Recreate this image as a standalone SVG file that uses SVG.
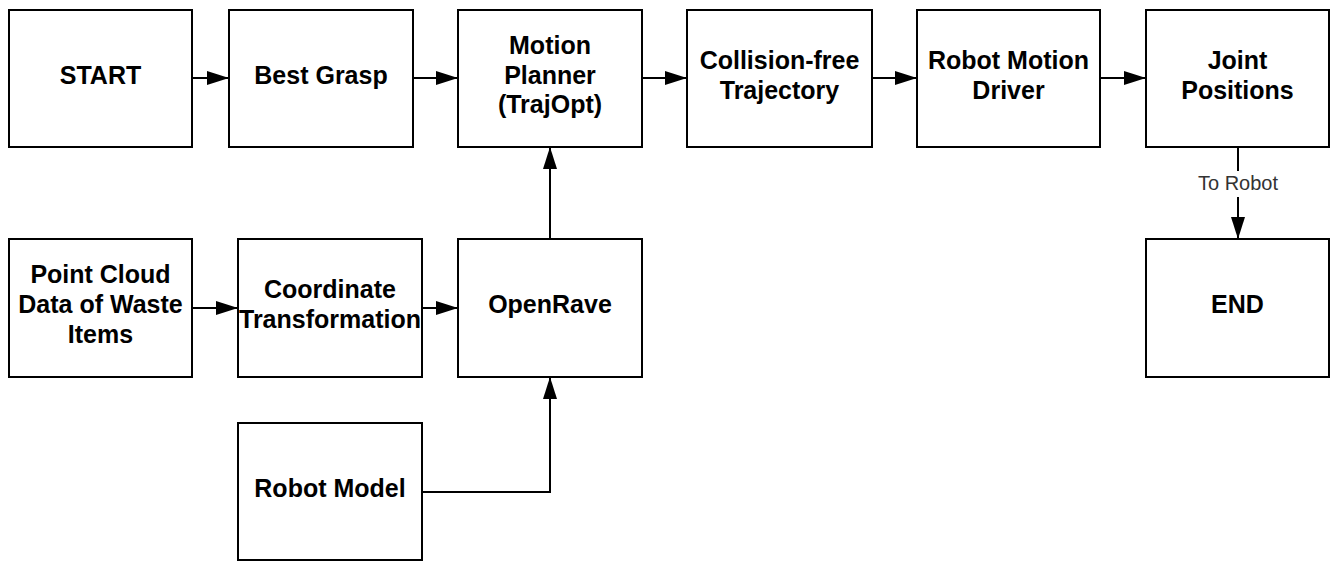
<svg xmlns="http://www.w3.org/2000/svg" width="1330" height="561" viewBox="0 0 1330 561">
<style>
.box{fill:#fff;stroke:#000;stroke-width:2}
.t{font-family:"Liberation Sans",Arial,sans-serif;font-weight:bold;font-size:25px;fill:#000;text-anchor:middle}
.c{fill:none;stroke:#000;stroke-width:2}
.lbl{font-family:"Liberation Sans",Arial,sans-serif;font-size:20px;fill:#333;text-anchor:middle}
</style>
<defs>
<marker id="ah" markerWidth="22" markerHeight="14" refX="22" refY="7" orient="auto" markerUnits="userSpaceOnUse">
<path d="M0,0 L22,7 L0,14 Z" fill="#000"/>
</marker>
</defs>
<g id="connectors">
<line class="c" x1="192" y1="78" x2="229" y2="78" marker-end="url(#ah)"/>
<line class="c" x1="413" y1="78" x2="458" y2="78" marker-end="url(#ah)"/>
<line class="c" x1="642" y1="78" x2="687" y2="78" marker-end="url(#ah)"/>
<line class="c" x1="872" y1="78" x2="917" y2="78" marker-end="url(#ah)"/>
<line class="c" x1="1100" y1="78" x2="1146" y2="78" marker-end="url(#ah)"/>
<line class="c" x1="192" y1="308" x2="238" y2="308" marker-end="url(#ah)"/>
<line class="c" x1="422" y1="308" x2="458" y2="308" marker-end="url(#ah)"/>
<line class="c" x1="550" y1="239" x2="550" y2="147" marker-end="url(#ah)"/>
<polyline class="c" points="422,492 550,492 550,377" marker-end="url(#ah)"/>
<line class="c" x1="1238" y1="147" x2="1238" y2="239" marker-end="url(#ah)"/>
<rect x="1192" y="171" width="92" height="26" fill="#fff"/>
<text class="lbl" x="1238" y="190">To Robot</text>
</g>
<g id="start"><rect class="box" x="9" y="10" width="183" height="137"/><text class="t" x="100.5" y="84">START</text></g>
<g id="best-grasp"><rect class="box" x="229" y="10" width="184" height="137"/><text class="t" x="321" y="84">Best Grasp</text></g>
<g id="motion-planner"><rect class="box" x="458" y="10" width="184" height="137"/><text class="t" x="550" y="54">Motion</text><text class="t" x="550" y="83.5">Planner</text><text class="t" x="550" y="113">(TrajOpt)</text></g>
<g id="collision-free"><rect class="box" x="687" y="10" width="185" height="137"/><text class="t" x="779.5" y="69">Collision-free</text><text class="t" x="779.5" y="99">Trajectory</text></g>
<g id="robot-motion-driver"><rect class="box" x="917" y="10" width="183" height="137"/><text class="t" x="1008.5" y="69">Robot Motion</text><text class="t" x="1008.5" y="99">Driver</text></g>
<g id="joint-positions"><rect class="box" x="1146" y="10" width="183" height="137"/><text class="t" x="1237.5" y="69">Joint</text><text class="t" x="1237.5" y="99">Positions</text></g>
<g id="point-cloud"><rect class="box" x="9" y="239" width="183" height="138"/><text class="t" x="100.5" y="283">Point Cloud</text><text class="t" x="100.5" y="313">Data of Waste</text><text class="t" x="100.5" y="343">Items</text></g>
<g id="coordinate-transformation"><rect class="box" x="238" y="239" width="184" height="138"/><text class="t" x="330" y="298">Coordinate</text><text class="t" x="330" y="328">Transformation</text></g>
<g id="openrave"><rect class="box" x="458" y="239" width="184" height="138"/><text class="t" x="550" y="313">OpenRave</text></g>
<g id="robot-model"><rect class="box" x="238" y="423" width="184" height="137"/><text class="t" x="330" y="497">Robot Model</text></g>
<g id="end"><rect class="box" x="1146" y="239" width="183" height="138"/><text class="t" x="1237.5" y="313">END</text></g>
</svg>
